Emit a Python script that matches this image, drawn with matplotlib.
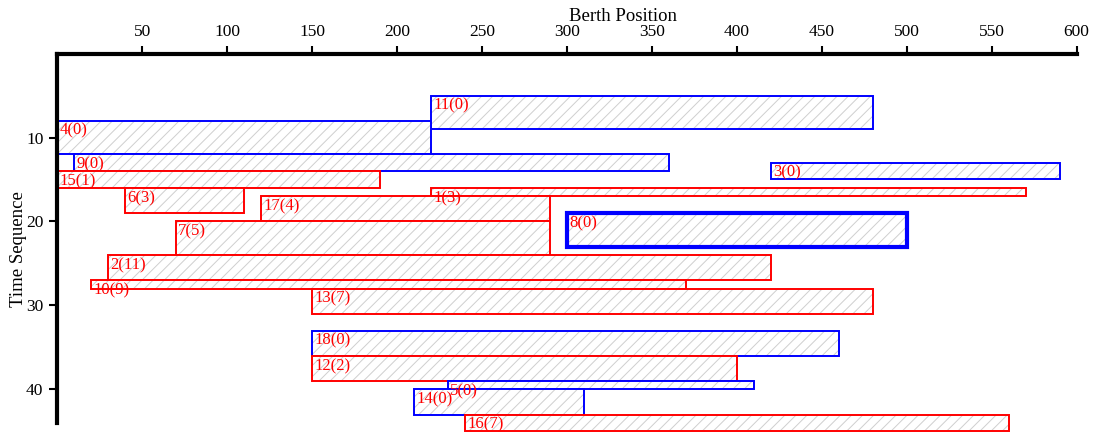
import matplotlib
matplotlib.use("Agg")
import matplotlib.pyplot as plt
from matplotlib.patches import Rectangle

plt.rcParams['font.family'] = ['Liberation Serif', 'DejaVu Serif']
plt.rcParams['hatch.linewidth'] = 0.7

# Vessel data: id, waiting time, berth start/end, time start/end
vessel_ids = [11, 4, 9, 3, 15, 6, 1, 17, 8, 7, 2, 10, 13, 18, 12, 5, 14, 16]
wait_times = [0, 0, 0, 0, 1, 3, 3, 4, 0, 5, 11, 9, 7, 0, 2, 0, 0, 7]
berth_start = [220, 0, 10, 420, 0, 40, 220, 120, 300, 70, 30, 20, 150, 150, 150, 230, 210, 240]
berth_end = [480, 220, 360, 590, 190, 110, 570, 290, 500, 290, 420, 370, 480, 460, 400, 410, 310, 560]
time_start = [5, 8, 12, 13, 14, 16, 16, 17, 19, 20, 24, 27, 28, 33, 36, 39, 40, 43]
time_end = [9, 12, 14, 15, 16, 19, 17, 20, 23, 24, 27, 28, 31, 36, 39, 40, 43, 45]
highlighted = [8]

x_ticks = [50, 100, 150, 200, 250, 300, 350, 400, 450, 500, 550, 600]
y_ticks = [10, 20, 30, 40]

fig = plt.figure(figsize=(11.03, 4.37), dpi=100)
ax = fig.add_axes([0.052, 0.032, 0.924, 0.8455])

for vid, w, x0, x1, t0, t1 in zip(vessel_ids, wait_times, berth_start, berth_end, time_start, time_end):
    color = '#0000ff' if w == 0 else '#ff0000'
    lw = 3.0 if vid in highlighted else 1.4
    hatch_patch = Rectangle((x0, t0), x1 - x0, t1 - t0, facecolor='white',
                            edgecolor='#cfcfcf', linewidth=0, hatch='///', clip_on=False)
    ax.add_patch(hatch_patch)
    edge_patch = Rectangle((x0, t0), x1 - x0, t1 - t0, facecolor='none',
                           edgecolor=color, linewidth=lw, clip_on=False)
    ax.add_patch(edge_patch)
    ax.annotate(f"{vid}({w})", xy=(x0, t0), xytext=(1.5, -1.5), textcoords='offset points',
                ha='left', va='top', color='#ff0000', fontsize=12, annotation_clip=False)

ax.set_xlim(0, 600)
ax.set_ylim(44, 0)
ax.xaxis.tick_top()
ax.xaxis.set_label_position('top')
ax.set_xticks(x_ticks)
ax.set_yticks(y_ticks)
ax.tick_params(axis='both', labelsize=12.5, length=6, width=1.5, direction='out', pad=4)

for side in ['bottom', 'right']:
    ax.spines[side].set_visible(False)
for side in ['top', 'left']:
    ax.spines[side].set_linewidth(3)

ax.set_xlabel('Berth Position', fontsize=13.5)
ax.xaxis.set_label_coords(0.555, 1.088)
ax.set_ylabel('Time Sequence', fontsize=13.5)
ax.yaxis.set_label_coords(-0.03, 0.47)

fig.savefig('out.png', dpi=100)
